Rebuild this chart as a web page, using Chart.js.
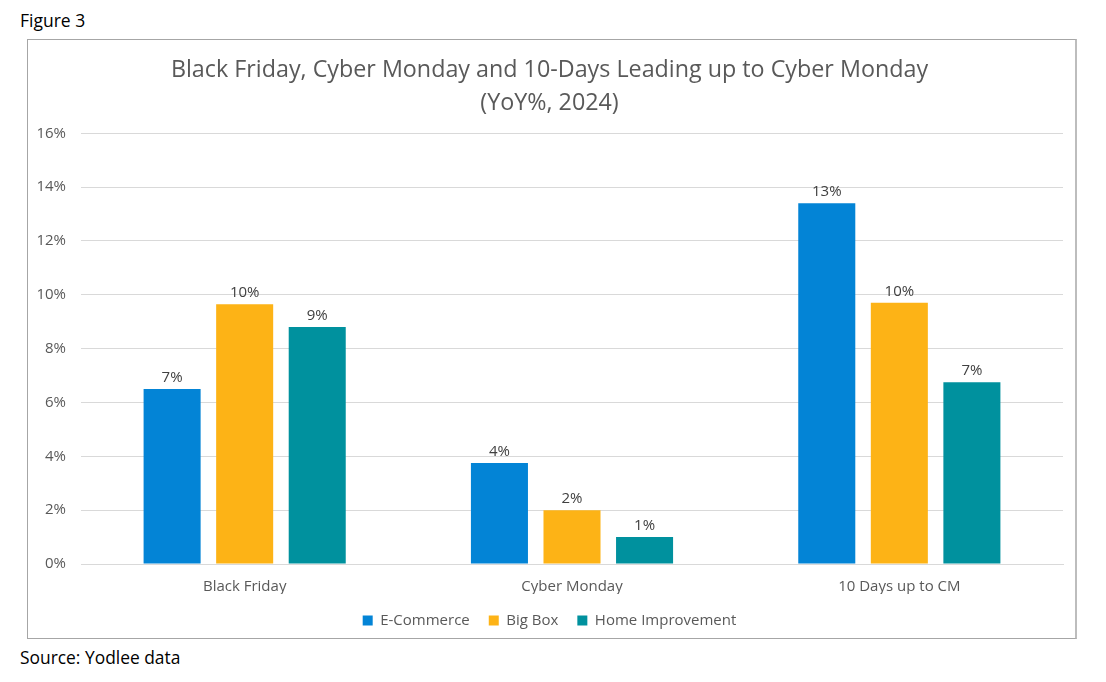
<!DOCTYPE html>
<html>
<head>
<meta charset="utf-8">
<script src="https://cdn.jsdelivr.net/npm/chart.js@4/dist/chart.umd.min.js"></script>
<style>
  html, body { margin: 0; padding: 0; background: #fff; width: 1106px; height: 682px; overflow: hidden; }
  body { position: relative; font-family: "Open Sans", "Noto Sans", sans-serif; }
  #fig { position: absolute; left: 20px; top: 8px; font-size: 17.5px; color: #000; }
  #src { position: absolute; left: 20px; top: 645px; font-size: 17.4px; color: #000; }
  #box { position: absolute; left: 27px; top: 39px; width: 1050px; height: 600px; border: 1px solid #a6a6a6; border-right: 2px solid #bdbdbd; box-sizing: border-box; }
  #box canvas { position: absolute; left: 0; top: 0; }
</style>
</head>
<body>
<div id="fig">Figure 3</div>
<div id="box"><canvas id="c" width="1047" height="598"></canvas></div>
<div id="src">Source: Yodlee data</div>
<script>
const categories = ["Black Friday", "Cyber Monday", "10 Days up to CM"];
const seriesNames = ["E-Commerce", "Big Box", "Home Improvement"];
const eCommerce = [6.5, 3.75, 13.4];
const bigBox = [9.65, 2.0, 9.7];
const homeImprovement = [8.8, 1.0, 6.75];
const yTicks = [0, 2, 4, 6, 8, 10, 12, 14, 16];
const colors = ["#0384D6", "#FDB316", "#00919E"];
const FONT = '"Open Sans", "Noto Sans", sans-serif';

const labelPlugin = {
  id: 'barLabels',
  afterDatasetsDraw(chart) {
    const ctx = chart.ctx;
    ctx.save();
    ctx.font = '15px ' + FONT;
    ctx.fillStyle = '#404040';
    ctx.textAlign = 'center';
    ctx.textBaseline = 'bottom';
    chart.data.datasets.forEach((ds, i) => {
      const meta = chart.getDatasetMeta(i);
      meta.data.forEach((bar, j) => {
        ctx.fillText(Math.round(ds.data[j]) + '%', bar.x, bar.y - 4);
      });
    });
    ctx.restore();
  }
};

new Chart(document.getElementById('c'), {
  type: 'bar',
  data: {
    labels: categories,
    datasets: [
      { label: seriesNames[0], data: eCommerce, backgroundColor: colors[0] },
      { label: seriesNames[1], data: bigBox, backgroundColor: colors[1] },
      { label: seriesNames[2], data: homeImprovement, backgroundColor: colors[2] }
    ]
  },
  options: {
    responsive: false,
    animation: false,
    devicePixelRatio: 1,
    categoryPercentage: 0.665,
    barPercentage: 0.786,
    layout: { padding: { left: 8, right: 12, top: 4, bottom: 0 } },
    plugins: {
      title: {
        display: true,
        text: ["Black Friday, Cyber Monday and 10-Days Leading up to Cyber Monday", "(YoY%, 2024)"],
        color: '#595959',
        font: { family: FONT, size: 23.3, weight: 'normal', lineHeight: 1.4 },
        padding: { top: 10, bottom: 14 }
      },
      legend: {
        position: 'bottom',
        labels: {
          usePointStyle: true,
          pointStyle: 'rect',
          boxWidth: 10,
          boxHeight: 10,
          padding: 19,
          color: '#595959',
          font: { family: FONT, size: 15 }
        }
      },
      tooltip: { enabled: false }
    },
    scales: {
      x: {
        grid: { display: false, drawTicks: false },
        border: { color: '#d9d9d9', width: 1 },
        afterFit(scale) { scale.height -= 16; },
        ticks: { color: '#595959', padding: 14, font: { family: FONT, size: 15 } }
      },
      y: {
        min: 0, max: 16,
        afterBuildTicks(scale) { scale.ticks = yTicks.map(v => ({ value: v })); },
        afterFit(scale) { scale.width = 45; },
        grid: { color: '#d9d9d9', drawTicks: false },
        border: { display: false },
        ticks: { color: '#595959', padding: 15, callback: v => v + '%', font: { family: FONT, size: 15 } }
      }
    }
  },
  plugins: [labelPlugin]
});
</script>
</body>
</html>
